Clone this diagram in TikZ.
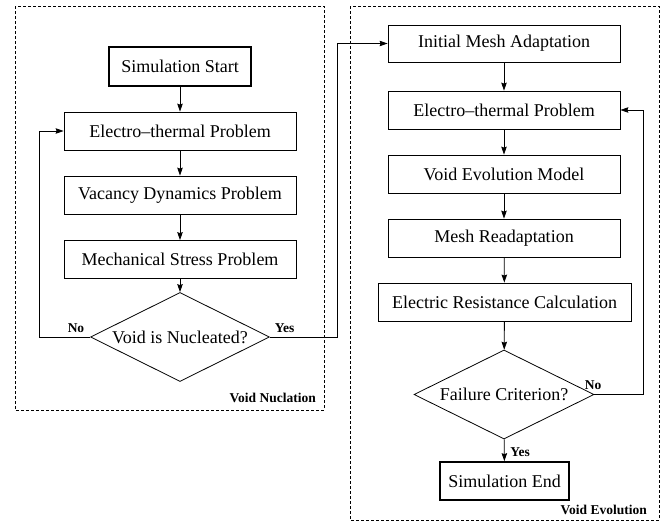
\documentclass[tikz,border=0pt]{standalone}
\usepackage{fontspec}
\setmainfont{Liberation Serif}
\usetikzlibrary{shapes.geometric,arrows.meta}
\begin{document}
\begin{tikzpicture}[x=1pt,y=-1pt,
  box/.style={draw,line width=0.8pt,rectangle,minimum width=232pt,minimum height=38pt,inner sep=0pt,font=\fontsize{18}{20}\selectfont},
  thickbox/.style={box,line width=1.7pt},
  dec/.style={draw,line width=0.8pt,diamond,aspect=2,inner sep=0pt,font=\fontsize{18}{20}\selectfont},
  arr/.style={line width=0.8pt,-{Stealth[length=8pt,width=5.5pt,inset=1pt]}},
  lbl/.style={font=\fontsize{13.5}{15}\selectfont\bfseries,inner sep=0pt},
  frame/.style={line width=0.7pt,dash pattern=on 3pt off 2pt}]
\useasboundingbox (0,0) rectangle (667,525);
% frames
\draw[frame] (15,6) rectangle (324,410);
\draw[frame] (350,6) rectangle (659,520);
\node[lbl,anchor=east] (fl) at (316,398) {Void Nuclation};
\node[lbl,anchor=east] (fr) at (647,510) {Void Evolution};
% left column
\node[thickbox,minimum width=142pt,minimum height=39pt] (start) at (180,66.5) {Simulation Start};
\node[box] (et1) at (180,131) {Electro--thermal Problem};
\node[box] (vd) at (180,195) {Vacancy Dynamics Problem};
\node[box] (ms) at (180,259.5) {Mechanical Stress Problem};
\node[dec,minimum width=179pt,minimum height=89pt] (d1) at (180,337) {Void is Nucleated?};
% right column
\node[box,minimum height=37pt] (im) at (504,43.5) {Initial Mesh Adaptation};
\node[box] (et2) at (504,110) {Electro--thermal Problem};
\node[box] (ve) at (504,174) {Void Evolution Model};
\node[box] (mr) at (504,238) {Mesh Readaptation};
\node[box,minimum width=253pt] (er) at (504.5,302) {Electric Resistance Calculation};
\node[dec,minimum width=180pt,minimum height=89pt] (d2) at (504,394.5) {Failure Criterion?};
\node[thickbox,minimum width=129pt,minimum height=38pt] (se) at (504.5,481) {Simulation End};
% connectors left
\draw[arr] (start) -- (et1);
\draw[arr] (et1) -- (vd);
\draw[arr] (vd) -- (ms);
\draw[arr] (ms) -- (d1);
\coordinate (nl) at (39,337);
\coordinate (yl) at (337,337);
\draw[arr] (d1.west) -- (nl) |- (et1.west);
\draw[arr] (d1.east) -- (yl) |- (im.west);
\node[lbl] (no1) at (76,328) {No};
\node[lbl] (yes1) at (284.5,328) {Yes};
% connectors right
\draw[arr] (im) -- (et2);
\draw[arr] (et2) -- (ve);
\draw[arr] (ve) -- (mr);
\draw[arr] (mr) -- (er);
\draw[arr] (er) -- (d2);
\draw[arr] (d2) -- (se);
\coordinate (nr) at (643,394.5);
\draw[arr] (d2.east) -- (nr) |- (et2.east);
\node[lbl] (no2) at (593,385) {No};
\node[lbl] (yes2) at (520,452) {Yes};
\end{tikzpicture}
\end{document}
